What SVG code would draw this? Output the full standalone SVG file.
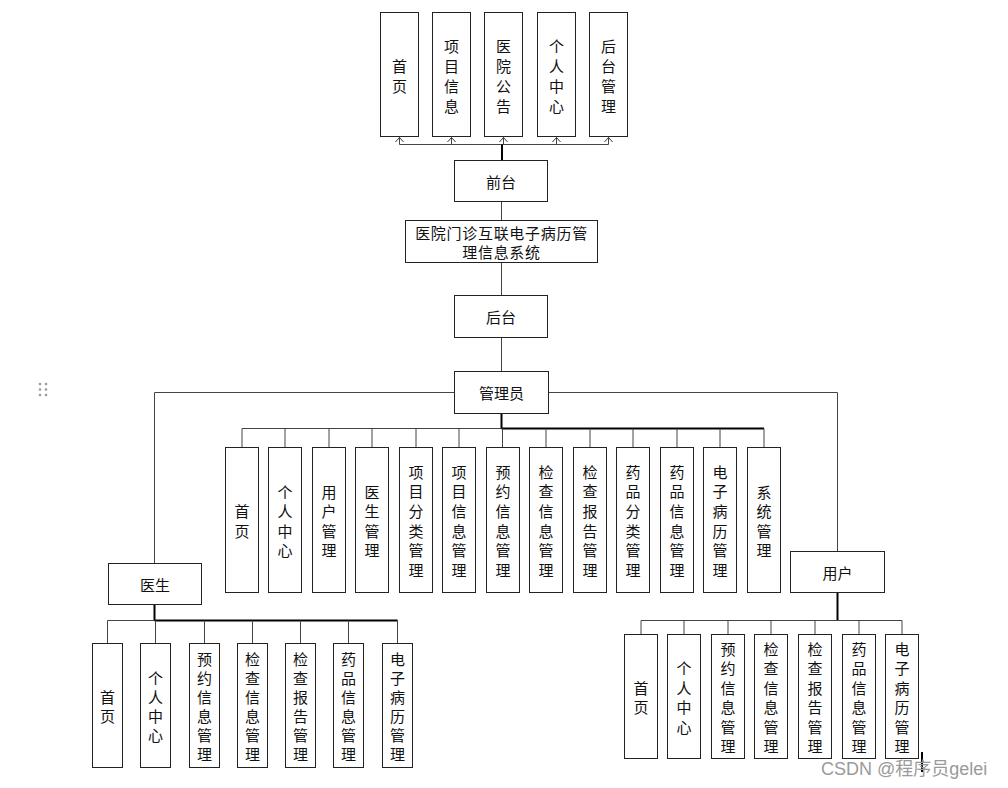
<svg xmlns="http://www.w3.org/2000/svg" width="1008" height="788" viewBox="0 0 1008 788">
<defs>
<style>
.box{fill:#fff;stroke:#222;stroke-width:1}
.t{font-family:"Noto Sans CJK SC","Liberation Sans",sans-serif;font-size:15px;fill:#111;text-anchor:middle;dominant-baseline:central}
.c{fill:none;stroke:#444;stroke-width:1}
.k{fill:none;stroke:#000;stroke-width:2}
.wm{font-family:"Liberation Sans","Noto Sans CJK SC",sans-serif;font-size:18px;fill:#9a9a9a}
</style>
<marker id="ah" viewBox="0 0 10 6" refX="5" refY="0.5" markerWidth="9" markerHeight="5.4" markerUnits="userSpaceOnUse" orient="0">
<path d="M0.5,5.5 L5,0.5 L9.5,5.5" fill="none" stroke="#222" stroke-width="1"/>
</marker>
</defs>
<rect width="1008" height="788" fill="#fff"/>

<g id="connectors">
<path class="c" d="M399.5,144.5 H608.5"/>
<path class="c" d="M399.5,144.5 V137.5" marker-end="url(#ah)"/>
<path class="c" d="M451.5,144.5 V137.5" marker-end="url(#ah)"/>
<path class="c" d="M503.5,144.5 V137.5" marker-end="url(#ah)"/>
<path class="c" d="M556.5,144.5 V137.5" marker-end="url(#ah)"/>
<path class="c" d="M608.5,144.5 V137.5" marker-end="url(#ah)"/>
<path class="k" d="M502,160 V144.5"/>
<path class="c" d="M501.5,201.5 V220.5"/>
<path class="c" d="M501.5,262.5 V295.5"/>
<path class="c" d="M501.5,337.5 V371.5"/>
<path class="c" d="M454.5,392.5 H154.5 V563.5"/>
<path class="c" d="M548.5,392.5 H837.5 V551.5"/>
<path class="k" d="M501.5,413.5 V428.5"/>
<path class="c" d="M242,428.5 H764"/>
<path class="k" d="M501.5,428.5 H764"/>
<path class="c" d="M242,428.5 V447 M285,428.5 V447 M329,428.5 V447 M372,428.5 V447 M416,428.5 V447 M459,428.5 V447 M502.5,428.5 V447 M546,428.5 V447 M590,428.5 V447 M633,428.5 V447 M677,428.5 V447 M720,428.5 V447 M764,428.5 V447"/>
<path class="k" d="M154.5,604.5 V620.5"/>
<path class="c" d="M107.5,620.5 H397.5"/>
<path class="k" d="M154.5,620.5 H397.5"/>
<path class="c" d="M107.5,620.5 V643 M155.5,620.5 V643 M204.5,620.5 V643 M252.5,620.5 V643 M300.5,620.5 V643 M348.5,620.5 V643 M397.5,620.5 V643"/>
<path class="k" d="M837.5,592.5 V620.5"/>
<path class="c" d="M641,620.5 H902"/>
<path class="c" d="M641,620.5 V634 M684,620.5 V634 M728,620.5 V634 M771,620.5 V634 M815,620.5 V634 M859,620.5 V634 M902,620.5 V634"/>
</g>

<g id="top-shouye"><rect class="box" x="380.5" y="12.5" width="38" height="124"/><text class="t"><tspan x="399.5" y="64.5">首</tspan><tspan x="399.5" y="84.5">页</tspan></text></g>
<g id="top-xiangmu"><rect class="box" x="432.5" y="12.5" width="38" height="124"/><text class="t"><tspan x="451.5" y="44.5">项</tspan><tspan x="451.5" y="64.5">目</tspan><tspan x="451.5" y="84.5">信</tspan><tspan x="451.5" y="104.5">息</tspan></text></g>
<g id="top-gonggao"><rect class="box" x="484.5" y="12.5" width="38" height="124"/><text class="t"><tspan x="503.5" y="44.5">医</tspan><tspan x="503.5" y="64.5">院</tspan><tspan x="503.5" y="84.5">公</tspan><tspan x="503.5" y="104.5">告</tspan></text></g>
<g id="top-geren"><rect class="box" x="537.5" y="12.5" width="38" height="124"/><text class="t"><tspan x="556.5" y="44.5">个</tspan><tspan x="556.5" y="64.5">人</tspan><tspan x="556.5" y="84.5">中</tspan><tspan x="556.5" y="104.5">心</tspan></text></g>
<g id="top-houtai"><rect class="box" x="589.5" y="12.5" width="38" height="124"/><text class="t"><tspan x="608.5" y="44.5">后</tspan><tspan x="608.5" y="64.5">台</tspan><tspan x="608.5" y="84.5">管</tspan><tspan x="608.5" y="104.5">理</tspan></text></g>

<g id="qiantai"><rect class="box" x="454.5" y="160.5" width="93" height="41"/><text class="t" x="501" y="181">前台</text></g>
<g id="system"><rect class="box" x="405.5" y="220.5" width="192" height="42"/><text class="t" style="letter-spacing:0.7px"><tspan x="501.5" y="232">医院门诊互联电子病历管</tspan><tspan x="501.5" y="251">理信息系统</tspan></text></g>
<g id="houtai"><rect class="box" x="454.5" y="295.5" width="93" height="42"/><text class="t" x="501" y="316">后台</text></g>
<g id="admin"><rect class="box" x="454.5" y="371.5" width="94" height="42"/><text class="t" x="501.5" y="392">管理员</text></g>

<g id="admin-1"><rect class="box" x="225.5" y="447.5" width="33" height="145"/><text class="t"><tspan x="242" y="510">首</tspan><tspan x="242" y="530">页</tspan></text></g>
<g id="admin-2"><rect class="box" x="268.5" y="447.5" width="33" height="145"/><text class="t"><tspan x="285" y="490.5">个</tspan><tspan x="285" y="510">人</tspan><tspan x="285" y="529.5">中</tspan><tspan x="285" y="549">心</tspan></text></g>
<g id="admin-3"><rect class="box" x="312.5" y="447.5" width="33" height="145"/><text class="t"><tspan x="329" y="490.5">用</tspan><tspan x="329" y="510">户</tspan><tspan x="329" y="529.5">管</tspan><tspan x="329" y="549">理</tspan></text></g>
<g id="admin-4"><rect class="box" x="355.5" y="447.5" width="33" height="145"/><text class="t"><tspan x="372" y="490.5">医</tspan><tspan x="372" y="510">生</tspan><tspan x="372" y="529.5">管</tspan><tspan x="372" y="549">理</tspan></text></g>
<g id="admin-5"><rect class="box" x="399.5" y="447.5" width="33" height="145"/><text class="t"><tspan x="416" y="470.5">项</tspan><tspan x="416" y="490">目</tspan><tspan x="416" y="510">分</tspan><tspan x="416" y="529.5">类</tspan><tspan x="416" y="549">管</tspan><tspan x="416" y="568.5">理</tspan></text></g>
<g id="admin-6"><rect class="box" x="442.5" y="447.5" width="33" height="145"/><text class="t"><tspan x="459" y="470.5">项</tspan><tspan x="459" y="490">目</tspan><tspan x="459" y="510">信</tspan><tspan x="459" y="529.5">息</tspan><tspan x="459" y="549">管</tspan><tspan x="459" y="568.5">理</tspan></text></g>
<g id="admin-7"><rect class="box" x="486.5" y="447.5" width="33" height="145"/><text class="t"><tspan x="503" y="470.5">预</tspan><tspan x="503" y="490">约</tspan><tspan x="503" y="510">信</tspan><tspan x="503" y="529.5">息</tspan><tspan x="503" y="549">管</tspan><tspan x="503" y="568.5">理</tspan></text></g>
<g id="admin-8"><rect class="box" x="529.5" y="447.5" width="33" height="145"/><text class="t"><tspan x="546" y="470.5">检</tspan><tspan x="546" y="490">查</tspan><tspan x="546" y="510">信</tspan><tspan x="546" y="529.5">息</tspan><tspan x="546" y="549">管</tspan><tspan x="546" y="568.5">理</tspan></text></g>
<g id="admin-9"><rect class="box" x="573.5" y="447.5" width="33" height="145"/><text class="t"><tspan x="590" y="470.5">检</tspan><tspan x="590" y="490">查</tspan><tspan x="590" y="510">报</tspan><tspan x="590" y="529.5">告</tspan><tspan x="590" y="549">管</tspan><tspan x="590" y="568.5">理</tspan></text></g>
<g id="admin-10"><rect class="box" x="616.5" y="447.5" width="33" height="145"/><text class="t"><tspan x="633" y="470.5">药</tspan><tspan x="633" y="490">品</tspan><tspan x="633" y="510">分</tspan><tspan x="633" y="529.5">类</tspan><tspan x="633" y="549">管</tspan><tspan x="633" y="568.5">理</tspan></text></g>
<g id="admin-11"><rect class="box" x="660.5" y="447.5" width="33" height="145"/><text class="t"><tspan x="677" y="470.5">药</tspan><tspan x="677" y="490">品</tspan><tspan x="677" y="510">信</tspan><tspan x="677" y="529.5">息</tspan><tspan x="677" y="549">管</tspan><tspan x="677" y="568.5">理</tspan></text></g>
<g id="admin-12"><rect class="box" x="703.5" y="447.5" width="33" height="145"/><text class="t"><tspan x="720" y="470.5">电</tspan><tspan x="720" y="490">子</tspan><tspan x="720" y="510">病</tspan><tspan x="720" y="529.5">历</tspan><tspan x="720" y="549">管</tspan><tspan x="720" y="568.5">理</tspan></text></g>
<g id="admin-13"><rect class="box" x="747.5" y="447.5" width="33" height="145"/><text class="t"><tspan x="764" y="490.5">系</tspan><tspan x="764" y="510">统</tspan><tspan x="764" y="529.5">管</tspan><tspan x="764" y="549">理</tspan></text></g>

<g id="doctor"><rect class="box" x="108.5" y="563.5" width="93" height="41"/><text class="t" x="155" y="584">医生</text></g>
<g id="doc-1"><rect class="box" x="92.5" y="643.5" width="30" height="124"/><text class="t"><tspan x="107.5" y="695.5">首</tspan><tspan x="107.5" y="714.5">页</tspan></text></g>
<g id="doc-2"><rect class="box" x="140.5" y="643.5" width="30" height="124"/><text class="t"><tspan x="155.5" y="677">个</tspan><tspan x="155.5" y="696">人</tspan><tspan x="155.5" y="715">中</tspan><tspan x="155.5" y="734">心</tspan></text></g>
<g id="doc-3"><rect class="box" x="189.5" y="643.5" width="30" height="124"/><text class="t"><tspan x="204.5" y="658">预</tspan><tspan x="204.5" y="677">约</tspan><tspan x="204.5" y="696">信</tspan><tspan x="204.5" y="715">息</tspan><tspan x="204.5" y="734">管</tspan><tspan x="204.5" y="753">理</tspan></text></g>
<g id="doc-4"><rect class="box" x="237.5" y="643.5" width="30" height="124"/><text class="t"><tspan x="252.5" y="658">检</tspan><tspan x="252.5" y="677">查</tspan><tspan x="252.5" y="696">信</tspan><tspan x="252.5" y="715">息</tspan><tspan x="252.5" y="734">管</tspan><tspan x="252.5" y="753">理</tspan></text></g>
<g id="doc-5"><rect class="box" x="285.5" y="643.5" width="30" height="124"/><text class="t"><tspan x="300.5" y="658">检</tspan><tspan x="300.5" y="677">查</tspan><tspan x="300.5" y="696">报</tspan><tspan x="300.5" y="715">告</tspan><tspan x="300.5" y="734">管</tspan><tspan x="300.5" y="753">理</tspan></text></g>
<g id="doc-6"><rect class="box" x="333.5" y="643.5" width="30" height="124"/><text class="t"><tspan x="348.5" y="658">药</tspan><tspan x="348.5" y="677">品</tspan><tspan x="348.5" y="696">信</tspan><tspan x="348.5" y="715">息</tspan><tspan x="348.5" y="734">管</tspan><tspan x="348.5" y="753">理</tspan></text></g>
<g id="doc-7"><rect class="box" x="382.5" y="643.5" width="30" height="124"/><text class="t"><tspan x="397.5" y="658">电</tspan><tspan x="397.5" y="677">子</tspan><tspan x="397.5" y="696">病</tspan><tspan x="397.5" y="715">历</tspan><tspan x="397.5" y="734">管</tspan><tspan x="397.5" y="753">理</tspan></text></g>

<g id="user"><rect class="box" x="790.5" y="551.5" width="94" height="41"/><text class="t" x="837.5" y="572">用户</text></g>
<g id="user-1"><rect class="box" x="624.5" y="634.5" width="33" height="124"/><text class="t"><tspan x="641" y="686.5">首</tspan><tspan x="641" y="706">页</tspan></text></g>
<g id="user-2"><rect class="box" x="667.5" y="634.5" width="33" height="124"/><text class="t"><tspan x="684" y="667">个</tspan><tspan x="684" y="686.5">人</tspan><tspan x="684" y="706">中</tspan><tspan x="684" y="725.5">心</tspan></text></g>
<g id="user-3"><rect class="box" x="711.5" y="634.5" width="33" height="124"/><text class="t"><tspan x="728" y="647.5">预</tspan><tspan x="728" y="667">约</tspan><tspan x="728" y="686.5">信</tspan><tspan x="728" y="706">息</tspan><tspan x="728" y="725.5">管</tspan><tspan x="728" y="745">理</tspan></text></g>
<g id="user-4"><rect class="box" x="754.5" y="634.5" width="33" height="124"/><text class="t"><tspan x="771" y="647.5">检</tspan><tspan x="771" y="667">查</tspan><tspan x="771" y="686.5">信</tspan><tspan x="771" y="706">息</tspan><tspan x="771" y="725.5">管</tspan><tspan x="771" y="745">理</tspan></text></g>
<g id="user-5"><rect class="box" x="798.5" y="634.5" width="33" height="124"/><text class="t"><tspan x="815" y="647.5">检</tspan><tspan x="815" y="667">查</tspan><tspan x="815" y="686.5">报</tspan><tspan x="815" y="706">告</tspan><tspan x="815" y="725.5">管</tspan><tspan x="815" y="745">理</tspan></text></g>
<g id="user-6"><rect class="box" x="842.5" y="634.5" width="33" height="124"/><text class="t"><tspan x="859" y="647.5">药</tspan><tspan x="859" y="667">品</tspan><tspan x="859" y="686.5">信</tspan><tspan x="859" y="706">息</tspan><tspan x="859" y="725.5">管</tspan><tspan x="859" y="745">理</tspan></text></g>
<g id="user-7"><rect class="box" x="885.5" y="634.5" width="33" height="124"/><text class="t"><tspan x="902" y="647.5">电</tspan><tspan x="902" y="667">子</tspan><tspan x="902" y="686.5">病</tspan><tspan x="902" y="706">历</tspan><tspan x="902" y="725.5">管</tspan><tspan x="902" y="745">理</tspan></text></g>

<g id="handle" fill="#999">
<circle cx="40" cy="384" r="1.3"/><circle cx="46" cy="384" r="1.3"/>
<circle cx="40" cy="389.5" r="1.3"/><circle cx="46" cy="389.5" r="1.3"/>
<circle cx="40" cy="395" r="1.3"/><circle cx="46" cy="395" r="1.3"/>
</g>
<path d="M922,752 V772" stroke="#000" stroke-width="2"/>
<text class="wm" x="821" y="775">CSDN @程序员gelei</text>
</svg>
